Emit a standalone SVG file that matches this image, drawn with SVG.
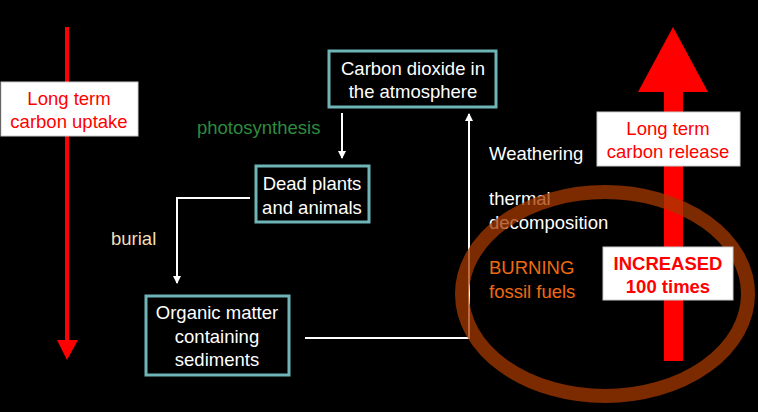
<svg xmlns="http://www.w3.org/2000/svg" width="758" height="412" viewBox="0 0 758 412">
<style>
text{font-family:"Liberation Sans",Arial,sans-serif;font-size:18.5px}
.box{fill:#000;stroke:#6fb5b8;stroke-width:3}
.w{fill:#fff}
.c{text-anchor:middle}
.con{fill:none;stroke:#fff;stroke-width:2}
.lab{fill:#fff;stroke:#ccc;stroke-width:1}
</style>
<defs>
<marker id="ah" markerWidth="8" markerHeight="8" refX="7" refY="4" orient="auto" markerUnits="userSpaceOnUse" viewBox="0 0 8 8"><path d="M0,0L8,4L0,8z" fill="#fff"/></marker>
</defs>
<rect width="758" height="412" fill="#000"/>
<g id="uptake">
<line x1="67" y1="27" x2="67" y2="342" stroke="#f00" stroke-width="4"/>
<path d="M57,340L78,340L67,360z" fill="#f00"/>
<rect x="1" y="82" width="137" height="54" class="lab"/>
<text x="69" y="105" class="c" fill="#f00">Long term</text>
<text x="69" y="128" class="c" fill="#f00">carbon uptake</text>
</g>
<g id="release">
<rect x="664" y="90" width="19" height="271" fill="#f00"/>
<path d="M638,92L708,92L673,27z" fill="#f00"/>
</g>
<g id="connectors">
<path class="con" d="M342,113V158" marker-end="url(#ah)"/>
<path class="con" d="M250,198H177V283" marker-end="url(#ah)"/>
<path class="con" d="M305,338H469V114" marker-end="url(#ah)"/>
</g>
<g id="co2">
<rect x="329" y="51" width="167" height="56" class="box"/>
<text x="413" y="75" class="c w">Carbon dioxide in</text>
<text x="413" y="98" class="c w">the atmosphere</text>
</g>
<g id="dead">
<rect x="256" y="166" width="113" height="56" class="box"/>
<text x="312" y="190" class="c w">Dead plants</text>
<text x="312" y="214" class="c w">and animals</text>
</g>
<g id="organic">
<rect x="146" y="296" width="143" height="79" class="box"/>
<text x="217" y="319" class="c w">Organic matter</text>
<text x="217" y="343" class="c w">containing</text>
<text x="217" y="366" class="c w">sediments</text>
</g>
<text x="197" y="134" fill="#2e8b3e">photosynthesis</text>
<text x="111" y="245" fill="#f5deb3">burial</text>
<text x="489" y="160" class="w">Weathering</text>
<text x="489" y="205" class="w">thermal</text>
<text x="489" y="229" class="w">decomposition</text>
<text x="489" y="274" fill="#f06a10">BURNING</text>
<text x="489" y="298" fill="#f06a10">fossil fuels</text>
<ellipse id="circle" cx="605" cy="294" rx="143" ry="102" fill="none" stroke="#a53a00" stroke-width="14" opacity="0.75"/>
<g id="release-labels">
<rect x="597" y="112" width="143" height="54" class="lab"/>
<text x="668" y="135" class="c" fill="#f00">Long term</text>
<text x="668" y="158" class="c" fill="#f00">carbon release</text>
<rect x="603" y="247" width="130" height="53" class="lab"/>
<text x="668" y="270" class="c" fill="#f00" font-weight="bold">INCREASED</text>
<text x="668" y="293" class="c" fill="#f00" font-weight="bold">100 times</text>
</g>
</svg>
